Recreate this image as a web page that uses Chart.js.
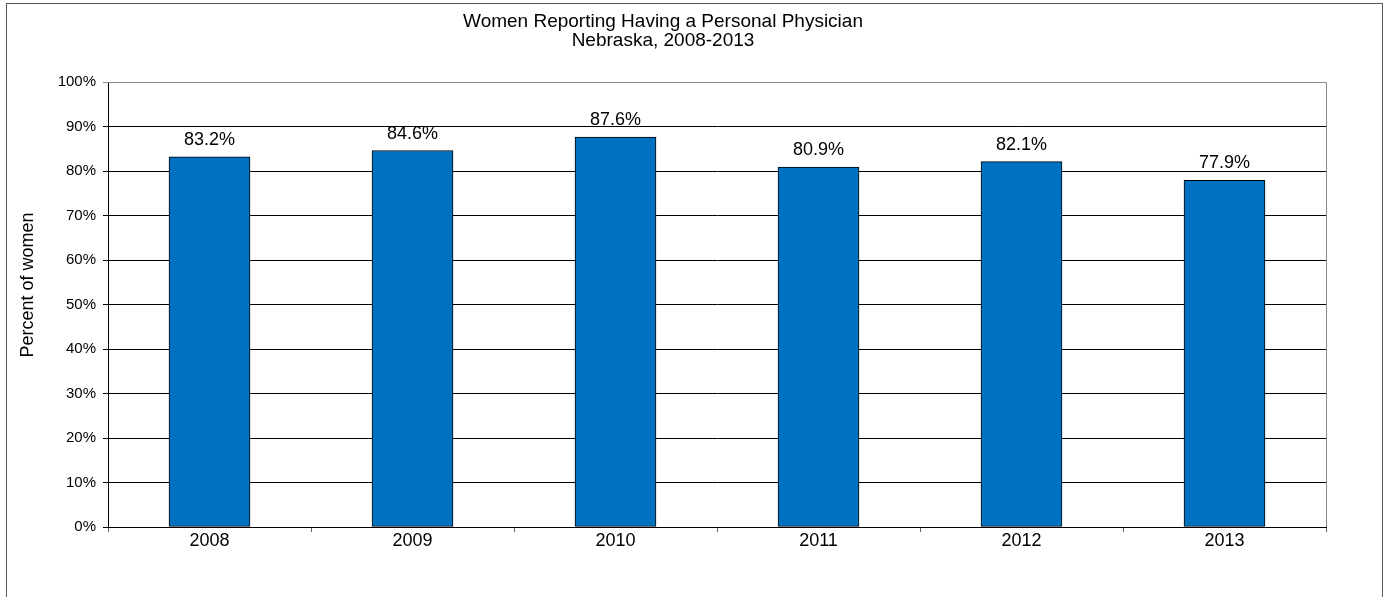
<!DOCTYPE html>
<html>
<head>
<meta charset="utf-8">
<title>Women Reporting Having a Personal Physician</title>
<script src="https://cdn.jsdelivr.net/npm/chart.js@4/dist/chart.umd.min.js"></script>
<style>
  html, body { margin: 0; padding: 0; background: #fff; }
  #wrap { width: 1384px; height: 597px; }
</style>
</head>
<body>
<div id="wrap"><canvas id="chart" width="1384" height="597"></canvas></div>
<script>
const years = ['2008', '2009', '2010', '2011', '2012', '2013'];
const pctWomen = [83.2, 84.6, 87.6, 80.9, 82.1, 77.9];
const titleLines = ['Women Reporting Having a Personal Physician', 'Nebraska, 2008-2013'];
const yAxisTitle = 'Percent of women';

const FONT = "'Liberation Sans', Arial, sans-serif";

// frame round the whole chart + grey plot area edge
const framePlugin = {
  id: 'frame',
  beforeDraw(chart) {
    const ctx = chart.ctx;
    ctx.save();
    ctx.strokeStyle = '#555';
    ctx.lineWidth = 1;
    ctx.strokeRect(6.5, 3.5, 1376, 700);
    ctx.restore();
  },
  beforeDatasetsDraw(chart) {
    const {ctx, chartArea} = chart;
    ctx.save();
    ctx.strokeStyle = '#888';
    ctx.lineWidth = 1;
    ctx.beginPath();
    ctx.moveTo(chartArea.left, Math.round(chartArea.top) + 0.5);
    ctx.lineTo(Math.round(chartArea.right) + 0.5, Math.round(chartArea.top) + 0.5);
    ctx.lineTo(Math.round(chartArea.right) + 0.5, chartArea.bottom);
    ctx.stroke();
    ctx.restore();
  },
  afterDraw(chart) {
    const ctx = chart.ctx;
    ctx.save();
    ctx.fillStyle = '#000';
    ctx.font = '18px ' + FONT;
    ctx.translate(28, 285);
    ctx.rotate(-Math.PI / 2);
    ctx.textAlign = 'center';
    ctx.textBaseline = 'middle';
    ctx.fillText(yAxisTitle, 0, 0);
    ctx.restore();
  }
};

// value labels above the bars
const valueLabels = {
  id: 'valueLabels',
  afterDatasetsDraw(chart) {
    const ctx = chart.ctx;
    const meta = chart.getDatasetMeta(0);
    ctx.save();
    ctx.fillStyle = '#000';
    ctx.font = '18px ' + FONT;
    ctx.textAlign = 'center';
    ctx.textBaseline = 'alphabetic';
    meta.data.forEach((bar, i) => {
      ctx.fillText(pctWomen[i].toFixed(1) + '%', bar.x, bar.y - 12);
    });
    ctx.restore();
  }
};

new Chart(document.getElementById('chart'), {
  type: 'bar',
  data: {
    labels: years,
    datasets: [{
      data: pctWomen,
      backgroundColor: '#0070C0',
      borderColor: '#000',
      borderWidth: 1,
      borderSkipped: false,
      barThickness: 81
    }]
  },
  options: {
    responsive: false,
    animation: false,
    layout: { padding: { left: 0, right: 58, top: 0, bottom: 0 } },
    plugins: {
      legend: { display: false },
      tooltip: { enabled: false },
      title: {
        display: true,
        text: titleLines,
        color: '#000',
        font: { family: FONT, size: 19, weight: 'normal', lineHeight: 1.0 },
        padding: { top: 12, bottom: 32 }
      }
    },
    scales: {
      x: {
        grid: {
          display: true,
          drawOnChartArea: false,
          color: '#666',
          tickLength: 5,
          offset: true
        },
        border: { display: true, color: '#000', width: 1 },
        ticks: { color: '#000', font: { family: FONT, size: 18 }, padding: -2 },
        afterFit(scale) { scale.height = 70; }
      },
      y: {
        min: 0,
        max: 100,
        grid: {
          color: (c) => (c.tick && c.tick.value === 100 ? '#888' : '#000'),
          tickLength: 5
        },
        border: { display: true, color: '#000', width: 1 },
        ticks: {
          stepSize: 10,
          color: '#000',
          padding: 7,
          font: { family: FONT, size: 15 },
          callback: (v) => v + '%'
        },
        afterFit(scale) { scale.width = 108; }
      }
    }
  },
  plugins: [framePlugin, valueLabels]
});
</script>
</body>
</html>
